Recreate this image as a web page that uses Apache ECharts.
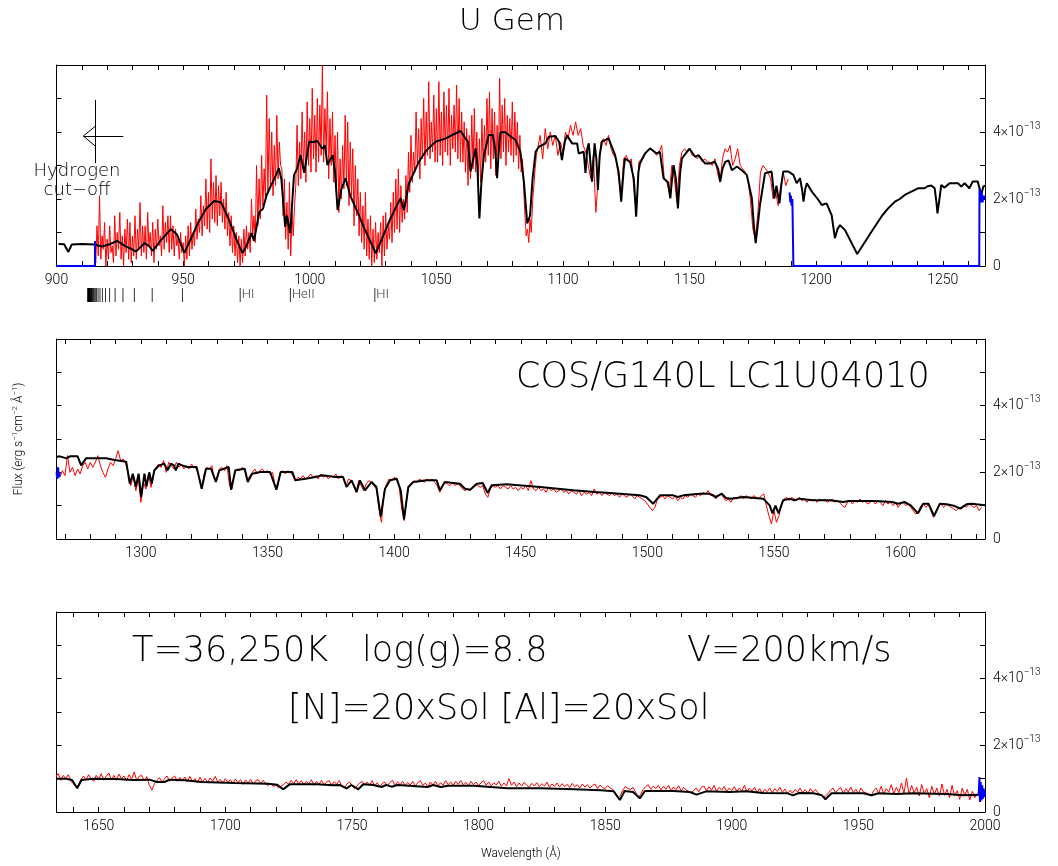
<!DOCTYPE html>
<html>
<head>
<meta charset="utf-8">
<title>U Gem</title>
<script src="https://cdn.jsdelivr.net/npm/echarts@6/dist/echarts.min.js"></script>
<style>
  html, body { margin: 0; padding: 0; background: #fff; }
  #chart { width: 1058px; height: 866px; }
</style>
</head>
<body>
<div id="chart"></div>
<script>
// flux everywhere in units of 1e-13 erg s-1 cm-2 A-1, wavelength in A
const FONT = 'Roboto';      // small text
const BIG_FONT = 'DejaVu Sans'; // big annotations, extra light
const THIN = 200;

const xRange1 = [900, 1266.67];
const xRange2 = [1266.67, 1633.33];
const xRange3 = [1633.33, 2000];
const yRange = [0, 6];

const xTicks1 = [910, 920, 930, 940, 950, 960, 970, 980, 990, 1000, 1010, 1020, 1030, 1040, 1050, 1060, 1070, 1080, 1090, 1100, 1110, 1120, 1130, 1140, 1150, 1160, 1170, 1180, 1190, 1200, 1210, 1220, 1230, 1240, 1250, 1260];
const xTicks2 = [1270, 1280, 1290, 1300, 1310, 1320, 1330, 1340, 1350, 1360, 1370, 1380, 1390, 1400, 1410, 1420, 1430, 1440, 1450, 1460, 1470, 1480, 1490, 1500, 1510, 1520, 1530, 1540, 1550, 1560, 1570, 1580, 1590, 1600, 1610, 1620, 1630];
const xTicks3 = [1640, 1650, 1660, 1670, 1680, 1690, 1700, 1710, 1720, 1730, 1740, 1750, 1760, 1770, 1780, 1790, 1800, 1810, 1820, 1830, 1840, 1850, 1860, 1870, 1880, 1890, 1900, 1910, 1920, 1930, 1940, 1950, 1960, 1970, 1980, 1990, 2000];
const xLabels1 = [900, 950, 1000, 1050, 1100, 1150, 1200, 1250];
const xLabels2 = [1300, 1350, 1400, 1450, 1500, 1550, 1600];
const xLabels3 = [1650, 1700, 1750, 1800, 1850, 1900, 1950, 2000];
const yLabels = [0, 2, 4];

// observed spectrum (red). FUSE part: 0.5 A steps 915-1089.5, then 1 A steps
const obs1aStart = 915;
const obs1a = [
  0.7, 0.1, 1.2, 0.3, 2.1, 0.2, 0.9, 0.5, 1.3, 0.0,
  0.8, 0.2, 1.2, 0.4, 0.6, 0.1, 1.5, 0.3, 1.0, 0.5,
  1.6, 0.2, 0.9, 0.0, 1.1, 0.4, 1.4, 0.2, 1.3, 0.1,
  0.9, 0.3, 1.5, 0.2, 1.1, 0.5, 1.9, 0.3, 1.2, 0.4,
  1.2, 0.2, 1.6, 0.6, 1.0, 0.3, 1.3, 0.1, 1.1, 0.5,
  1.4, 0.6, 0.9, 0.3, 1.8, 0.5, 1.3, 0.7, 1.5, 0.4,
  1.5, 0.5, 1.2, 0.3, 1.1, 0.6, 0.8, 0.2, 1.0, 0.4,
  0.7, 0.0, 0.9, 0.2, 1.2, 0.3, 1.3, 0.5, 1.0, 0.6,
  1.7, 0.8, 1.4, 1.0, 2.1, 0.9, 1.8, 1.2, 2.6, 1.1,
  2.2, 1.0, 3.2, 1.4, 2.5, 1.3, 2.7, 1.2, 2.4, 1.5,
  2.5, 1.3, 2.0, 1.1, 2.2, 0.9, 1.6, 0.6, 1.5, 0.4,
  1.2, 0.3, 1.0, 0.1, 0.9, 0.0, 0.8, 0.1, 1.1, 0.3,
  1.2, 0.5, 1.0, 0.4, 2.0, 0.9, 1.5, 0.7, 3.0, 1.2,
  2.6, 1.4, 3.3, 1.8, 2.9, 2.0, 5.1, 2.2, 4.4, 2.3,
  4.0, 2.1, 3.6, 2.4, 4.5, 2.6, 3.7, 3.0, 2.9, 1.5,
  2.6, 0.8, 1.9, 0.5, 2.5, 0.3, 1.6, 0.9, 1.8, 2.4,
  4.2, 2.4, 3.7, 2.6, 4.6, 2.9, 4.0, 2.5, 4.9, 3.0,
  4.4, 2.8, 5.3, 3.2, 4.5, 2.8, 5.0, 3.1, 4.8, 3.3,
  6.0, 3.1, 4.7, 3.4, 5.2, 2.6, 4.4, 3.0, 4.6, 2.5,
  3.9, 2.2, 4.0, 1.6, 3.2, 2.0, 3.6, 2.3, 4.5, 2.4,
  4.3, 1.8, 3.7, 2.1, 3.5, 1.2, 3.0, 1.5, 2.6, 0.9,
  2.2, 0.7, 1.8, 0.5, 2.2, 0.3, 1.4, 0.2, 1.5, 0.0,
  1.1, 0.1, 1.3, 0.2, 1.0, 0.4, 1.3, 0.0, 1.5, 0.3,
  1.6, 0.5, 1.2, 0.8, 1.9, 0.7, 2.2, 1.0, 2.6, 1.1,
  2.9, 1.0, 2.4, 1.3, 2.0, 1.4, 2.7, 1.6, 3.4, 2.2,
  3.9, 2.5, 3.4, 2.8, 4.6, 3.0, 4.1, 2.6, 4.4, 3.2,
  5.0, 3.0, 4.6, 3.3, 5.5, 3.2, 4.3, 3.4, 5.1, 3.1,
  4.7, 3.1, 5.5, 3.3, 4.6, 3.0, 5.2, 3.4, 4.8, 3.3,
  5.3, 3.0, 4.5, 3.5, 4.8, 3.4, 5.4, 3.2, 5.0, 3.1,
  4.6, 3.1, 4.3, 2.8, 4.1, 2.4, 3.9, 2.6, 4.5, 2.9,
  4.7, 2.8, 4.0, 2.4, 3.8, 2.5, 4.4, 3.0, 4.2, 3.1,
  5.0, 3.3, 5.2, 2.9, 4.7, 3.2, 4.6, 2.7, 4.2, 3.0,
  5.6, 3.2, 4.8, 3.4, 5.0, 3.0, 4.5, 3.4, 4.4, 3.3,
  4.9, 3.1, 4.6, 3.3, 4.3, 2.9, 3.9, 2.8, 3.2, 2.3,
  1.5, 0.9, 1.1, 0.7, 1.4, 1.0, 1.9, 2.4, 2.9, 3.3
];
const obs1bStart = 1090;
const obs1b = [
  3.3, 3.9, 3.2, 4.1, 3.5,
  4.0, 3.6, 3.9, 3.3, 3.7, 3.4, 4.0, 3.8, 4.2, 3.9,
  4.3, 3.9, 4.1, 3.6, 3.4, 3.0, 2.6, 3.3, 1.6, 2.7,
  3.7, 3.8, 3.6, 3.9, 3.5, 3.3, 3.2, 2.6, 2.1, 3.2,
  3.3, 3.1, 3.2, 2.3, 1.6, 3.1, 3.2, 3.3, 3.4, 3.5,
  3.5, 3.4, 3.3, 3.4, 3.6, 2.6, 2.5, 2.2, 3.0, 2.6,
  1.9, 3.0, 3.4, 3.5, 3.4, 3.5, 3.3, 3.3, 3.2, 3.3,
  3.1, 3.2, 3.1, 3.1, 3.0, 3.2, 2.8, 2.5, 3.2, 3.5,
  3.4, 3.6, 3.0, 3.2, 3.5, 3.0, 2.9, 2.8, 2.6, 2.0,
  1.1, 0.8, 1.6, 2.8, 3.0, 2.9, 2.8, 2.6, 2.0, 2.2,
  1.8, 2.4, 2.8, 2.4, 2.6
];

// COS part, 1 A steps
const obs2Start = 1268;
const obs2 = [
  1.85, 2.05, 1.9, 2.5, 2.0, 2.15, 1.9, 2.1, 1.95, 2.2,
  2.3, 2.1, 2.3, 2.15, 2.3, 2.5, 2.2, 2.0, 1.85, 2.1,
  2.3, 2.2, 2.4, 2.65, 2.35, 2.4, 2.25, 2.0, 1.6, 1.9,
  1.45, 1.8, 1.1, 1.7, 1.5, 1.95, 1.55, 2.0, 2.15, 2.25,
  2.15, 2.35, 2.0, 2.3, 2.2, 2.1, 2.3, 2.15, 2.25, 2.1,
  2.2, 2.1, 2.25, 2.15, 2.1, 1.85, 1.5, 1.95, 2.15, 2.1,
  2.2, 1.8, 1.85, 2.1, 2.15, 2.05, 2.2, 1.6, 1.5, 2.0,
  2.1, 2.05, 2.15, 2.05, 1.75, 1.9, 2.0, 2.1, 1.95, 2.05,
  2.1, 2.0, 2.05, 1.95, 2.0, 1.6, 1.55, 2.0, 2.05, 1.95,
  2.05, 2.0, 1.9, 1.75, 1.85, 1.8, 1.9, 1.8, 1.85, 1.95,
  1.85, 1.9, 1.8, 1.95, 1.85, 1.9, 1.8, 1.9, 1.85, 1.95,
  1.8, 1.9, 1.85, 1.6, 1.8, 1.75, 1.6, 1.4, 1.75, 1.6,
  1.45, 1.65, 1.75, 1.7, 1.6, 1.5, 0.9, 0.5, 1.4, 1.65,
  1.8, 1.75, 1.85, 1.8, 1.55, 0.9, 0.55, 1.3, 1.6, 1.7,
  1.75, 1.7, 1.8, 1.75, 1.7, 1.8, 1.75, 1.8, 1.7, 1.6,
  1.4, 1.55, 1.7, 1.65, 1.6, 1.7, 1.6, 1.65, 1.6, 1.5,
  1.45, 1.5, 1.45, 1.55, 1.65, 1.6, 1.55, 1.6, 1.35, 1.25,
  1.5, 1.6, 1.55, 1.6, 1.5, 1.6, 1.55, 1.5, 1.6, 1.5,
  1.55, 1.45, 1.55, 1.5, 1.6, 1.45, 1.75, 1.5, 1.45, 1.55,
  1.45, 1.5, 1.4, 1.55, 1.45, 1.5, 1.4, 1.45, 1.5, 1.4,
  1.45, 1.35, 1.45, 1.4, 1.35, 1.45, 1.3, 1.4, 1.35, 1.4,
  1.3, 1.5, 1.35, 1.4, 1.3, 1.4, 1.35, 1.3, 1.4, 1.3,
  1.35, 1.25, 1.35, 1.3, 1.25, 1.35, 1.3, 1.2, 1.3, 1.25,
  1.2, 1.15, 1.05, 0.95, 0.85, 0.95, 1.2, 1.25, 1.3, 1.2,
  1.3, 1.25, 1.2, 1.3, 1.15, 1.25, 1.2, 1.3, 1.25, 1.35,
  1.3, 1.25, 1.35, 1.3, 1.4, 1.35, 1.45, 1.3, 1.35, 1.2,
  1.3, 1.35, 1.25, 1.15, 1.2, 1.1, 1.25, 1.2, 1.25, 1.3,
  1.2, 1.3, 1.25, 1.2, 1.3, 1.25, 1.2, 1.3, 1.35, 1.0,
  0.7, 0.45, 0.85, 0.5, 0.7, 1.05, 1.2, 1.25, 1.15, 1.25,
  1.2, 1.15, 1.25, 1.15, 1.2, 1.1, 1.2, 1.15, 1.2, 1.1,
  1.2, 1.15, 1.2, 1.1, 1.15, 1.2, 1.1, 1.15, 1.1, 1.0,
  0.95, 1.1, 1.15, 1.05, 1.15, 1.1, 1.2, 1.1, 1.15, 1.05,
  1.1, 1.15, 1.05, 1.15, 1.1, 1.0, 1.15, 1.05, 1.1, 1.0,
  1.1, 0.95, 1.05, 1.1, 1.0, 1.05, 0.95, 0.85, 0.75, 0.8,
  1.0, 1.05, 0.95, 1.05, 0.85, 0.65, 0.8, 1.0, 1.05, 0.95,
  1.05, 1.0, 0.95, 0.9, 0.85, 0.95, 0.9, 1.0, 0.95, 1.05,
  1.0, 0.95, 1.0, 0.85, 0.95
];

const obs3Start = 1633;
const obs3 = [
  1.05, 1.15, 0.95, 1.1, 1.0, 1.12, 0.92, 0.85, 0.75, 0.82,
  0.98, 1.08, 0.96, 1.12, 1.0, 0.92, 1.1, 0.98, 1.15, 0.95,
  1.08, 1.17, 0.96, 1.1, 0.95, 1.14, 1.0, 1.08, 0.94, 1.12,
  0.98, 1.2, 0.95, 1.07, 1.1, 0.93, 1.06, 0.8, 0.66, 0.85,
  0.95, 1.03, 0.9, 1.0, 1.08, 0.92, 1.02, 1.08, 0.92, 1.04,
  0.94, 1.05, 0.9, 1.07, 0.92, 1.0, 0.88, 1.04, 0.9, 1.01,
  0.88, 1.02, 0.92, 1.07, 0.9, 0.98, 0.86, 1.0, 0.89, 0.97,
  0.86, 0.99, 0.88, 0.97, 0.83, 0.96, 0.88, 0.98, 0.84, 0.94,
  0.97, 0.85, 0.95, 0.83, 0.8, 0.86, 0.76, 0.82, 0.72, 0.78,
  0.82, 0.9, 0.83, 0.95, 0.85, 0.97, 0.84, 0.94, 0.82, 0.92,
  0.84, 0.97, 0.8, 0.92, 0.83, 0.95, 0.82, 0.9, 0.94, 0.81,
  0.91, 0.83, 0.94, 0.78, 0.72, 0.84, 0.9, 0.8, 0.7, 0.78,
  0.87, 0.92, 0.81, 0.9, 0.8, 0.94, 0.78, 0.88, 0.76, 0.86,
  0.9, 0.78, 0.88, 0.95, 0.8, 0.91, 0.82, 0.92, 0.79, 0.89,
  0.81, 0.92, 0.78, 0.88, 0.94, 0.8, 0.87, 0.76, 0.9, 0.81,
  0.92, 0.78, 0.88, 0.8, 0.94, 0.82, 0.9, 0.8, 0.92, 0.83,
  0.94, 0.81, 0.89, 0.78, 0.92, 0.82, 0.9, 0.79, 0.88, 0.94,
  0.8, 0.9, 0.78, 0.88, 0.81, 0.92, 0.77, 0.87, 0.78, 1.0,
  0.8, 0.9, 0.76, 0.87, 0.78, 0.89, 0.8, 0.74, 0.86, 0.78,
  0.88, 0.76, 0.85, 0.78, 0.9, 0.74, 0.84, 0.77, 0.87, 0.75,
  0.85, 0.76, 0.83, 0.73, 0.86, 0.76, 0.82, 0.72, 0.84, 0.75,
  0.82, 0.72, 0.8, 0.84, 0.7, 0.81, 0.73, 0.7, 0.79, 0.72,
  0.68, 0.55, 0.42, 0.5, 0.66, 0.77, 0.7, 0.68, 0.74, 0.6,
  0.45, 0.52, 0.68, 0.76, 0.82, 0.68, 0.78, 0.7, 0.8, 0.66,
  0.77, 0.68, 0.8, 0.64, 0.75, 0.67, 0.79, 0.63, 0.74, 0.66,
  0.62, 0.58, 0.65, 0.72, 0.61, 0.74, 0.78, 0.64, 0.76, 0.66,
  0.8, 0.63, 0.74, 0.66, 0.77, 0.61, 0.72, 0.65, 0.76, 0.62,
  0.72, 0.64, 0.8, 0.6, 0.72, 0.63, 0.74, 0.58, 0.7, 0.56,
  0.68, 0.61, 0.72, 0.58, 0.7, 0.62, 0.74, 0.59, 0.69, 0.54,
  0.65, 0.56, 0.68, 0.6, 0.72, 0.58, 0.67, 0.55, 0.7, 0.6,
  0.68, 0.58, 0.52, 0.45, 0.48, 0.55, 0.66, 0.72, 0.58, 0.68,
  0.74, 0.56, 0.7, 0.6, 0.75, 0.58, 0.68, 0.54, 0.72, 0.6,
  0.58, 0.52, 0.48, 0.64, 0.72, 0.56, 0.77, 0.53, 0.7, 0.6,
  0.82, 0.54, 0.74, 0.58, 0.87, 0.56, 1.02, 0.53, 0.8, 0.58,
  0.74, 0.48, 0.82, 0.56, 0.7, 0.43, 0.77, 0.53, 0.72, 0.48,
  0.84, 0.5, 0.68, 0.43, 0.8, 0.48, 0.64, 0.38, 0.72, 0.5,
  0.68, 0.36, 0.62, 0.43, 0.55
];

// model spectrum (black), [wavelength, flux]
const model1 = [
  [900.8, 0.66], [903, 0.65], [904.7, 0.42], [906, 0.64], [910, 0.66], [915, 0.64], [918, 0.58], [921, 0.65],
  [924, 0.75], [927, 0.6], [929, 0.53], [931.4, 0.43], [934.7, 0.68], [936.5, 0.6], [938, 0.45], [941, 0.75],
  [945.2, 1.1], [947.5, 0.95], [950.5, 0.39], [953, 0.8], [956, 1.3], [959, 1.7], [962.3, 1.94], [965, 1.9],
  [968, 1.4], [971, 0.8], [973.4, 0.39], [975, 0.6], [977, 0.98], [978, 0.75], [980.1, 1.62], [981.5, 1.7],
  [983, 2.12], [984.5, 2.37], [986, 2.6], [987.8, 2.92], [988.8, 2.6], [990.3, 1.17], [991, 1.5], [992.3, 0.98],
  [993.8, 2.72], [995, 2.9], [996.4, 3.31], [997.8, 2.78], [999.8, 3.71], [1001.5, 3.7], [1003, 3.73], [1005, 3.5],
  [1006, 3.6], [1007, 3.01], [1009, 3.31], [1010, 2.8], [1011, 1.67], [1012.5, 2.3], [1014.2, 2.62], [1016, 2.1],
  [1018.8, 1.62], [1021.5, 1.13], [1026.1, 0.38], [1031.3, 1.32], [1034, 1.75], [1035.9, 2.02], [1037.2, 1.67], [1039.2, 2.47],
  [1043.1, 3.11], [1046, 3.45], [1049.7, 3.71], [1053.7, 3.81], [1056.3, 3.91], [1059.6, 4.03], [1061.5, 3.81], [1062.5, 3.7],
  [1063.5, 2.82], [1065.5, 3.51], [1066.2, 3.0], [1067, 1.42], [1067.8, 2.5], [1068.8, 3.31], [1070.7, 3.91], [1072.3, 3.91],
  [1073.2, 3.5], [1074, 2.62], [1074.8, 3.6], [1075.3, 3.99], [1077.3, 3.99], [1078.6, 3.91], [1081.3, 3.76], [1083.2, 3.41],
  [1084.6, 2.5], [1085.9, 1.27], [1087, 1.5], [1088, 2.6], [1089.2, 3.41], [1090.5, 3.56], [1093.1, 3.66], [1094.4, 3.86],
  [1097, 3.88], [1098.5, 3.7], [1099.6, 3.16], [1100.7, 3.7], [1101.6, 3.9], [1103.6, 3.66], [1105.6, 3.66], [1106.2, 3.36],
  [1108.2, 3.41], [1108.9, 2.78], [1109.6, 3.5], [1110.2, 3.66], [1111.5, 2.52], [1112.5, 3.66], [1113.2, 3.2], [1113.8, 2.27],
  [1114.5, 3.3], [1115.4, 3.71], [1118, 3.81], [1120.6, 3.31], [1122, 2.8], [1123, 1.92], [1124, 2.9], [1124.5, 3.21],
  [1126.5, 3.11], [1128, 2.6], [1128.9, 1.47], [1129.8, 2.8], [1130.4, 3.06], [1132.4, 3.36], [1134.4, 3.51], [1137, 3.36],
  [1138.3, 3.41], [1139.7, 2.62], [1141.5, 2.5], [1142.4, 2.02], [1143.2, 2.7], [1143.7, 3.01], [1144.6, 2.6], [1145.4, 1.72],
  [1146.3, 2.8], [1147, 3.21], [1149, 3.41], [1150, 3.5], [1152.2, 3.26], [1153.5, 3.31], [1156.1, 3.06], [1158, 3.06],
  [1160, 3.11], [1161.3, 2.9], [1162.1, 2.52], [1163, 2.9], [1164.1, 3.11], [1165.4, 3.15], [1166.7, 2.86], [1168.7, 2.97],
  [1170.6, 2.86], [1172.6, 2.72], [1174.6, 2.02], [1175.4, 1.2], [1176.1, 0.68], [1176.9, 1.2], [1177.8, 1.82], [1179.8, 2.77],
  [1182.4, 2.82], [1183.5, 2.02], [1184.3, 2.4], [1185, 2.07], [1185.5, 1.87], [1186.2, 2.4], [1187, 2.82], [1189, 2.82],
  [1191, 2.72], [1192.3, 2.47], [1193.6, 2.62], [1194.4, 2.3], [1195, 1.92], [1195.7, 2.3], [1196.3, 2.47], [1198.3, 2.22],
  [1200.9, 1.97], [1202.2, 1.82], [1204.1, 1.87], [1206.1, 1.52], [1207.4, 0.83], [1208.4, 1.1], [1209.4, 1.22], [1211.4, 1.07],
  [1216.2, 0.36], [1221.9, 1.03], [1226, 1.5], [1228.4, 1.72], [1231.1, 1.92], [1233, 2.0], [1235, 2.12], [1237.6, 2.22],
  [1240.2, 2.32], [1242.8, 2.32], [1244, 2.38], [1245.5, 2.4], [1246.8, 2.32], [1247.5, 1.9], [1247.9, 1.57], [1248.5, 1.9],
  [1249.4, 2.42], [1250.7, 2.34], [1252.7, 2.47], [1256, 2.47], [1257.3, 2.37], [1258.6, 2.47], [1260.5, 2.32], [1261.8, 2.52],
  [1263.8, 2.52], [1265.2, 2.12], [1266, 2.37], [1266.67, 2.4]
];

const model2 = [
  [1266.67, 2.46], [1268, 2.48], [1270.6, 2.42], [1272, 2.48], [1275, 2.48], [1276.4, 2.21], [1278.3, 2.42], [1283.6, 2.42],
  [1286.3, 2.42], [1289.6, 2.37], [1294.2, 2.32], [1295.6, 1.66], [1296.8, 1.96], [1298, 1.57], [1299.1, 1.96], [1300.1, 1.26],
  [1301.4, 1.96], [1302.2, 1.57], [1303.3, 2.0], [1304.3, 1.66], [1305.3, 2.06], [1307.3, 2.21], [1309.2, 2.26], [1310.5, 2.06],
  [1311.9, 2.26], [1313, 2.21], [1313.8, 2.06], [1314.8, 2.26], [1316.3, 2.21], [1318.3, 2.16], [1322, 2.16], [1324, 1.51],
  [1325.7, 2.11], [1327.7, 2.11], [1329.6, 1.71], [1331, 2.06], [1334.7, 2.16], [1335.6, 1.48], [1337.3, 2.06], [1341, 2.11],
  [1342.2, 1.71], [1343.9, 1.96], [1347.2, 2.01], [1351, 2.01], [1353.5, 1.48], [1355.2, 2.01], [1359.8, 2.01], [1361, 1.76],
  [1365, 1.81], [1369, 1.86], [1371.6, 1.91], [1376.8, 1.86], [1379.8, 1.86], [1381.2, 1.56], [1383.2, 1.76], [1385.2, 1.41],
  [1386.5, 1.76], [1388.5, 1.46], [1391.1, 1.71], [1393, 1.56], [1394.7, 0.67], [1396.4, 1.51], [1398.4, 1.76], [1401, 1.81],
  [1402.6, 1.46], [1403.9, 0.59], [1405.6, 1.56], [1407.6, 1.71], [1412.8, 1.76], [1416.8, 1.76], [1418.1, 1.46], [1420, 1.71],
  [1426, 1.66], [1428, 1.51], [1430, 1.48], [1432.7, 1.66], [1435, 1.68], [1436.9, 1.38], [1438.5, 1.61], [1444.4, 1.64],
  [1457.6, 1.56], [1470.7, 1.46], [1478, 1.42], [1478.6, 1.36], [1479.3, 1.41], [1483.9, 1.39], [1497, 1.31], [1499.5, 1.26],
  [1502.3, 1.06], [1505, 1.31], [1510.2, 1.31], [1512, 1.26], [1514.2, 1.31], [1520.8, 1.36], [1524.5, 1.36], [1527, 1.26],
  [1529.4, 1.36], [1531, 1.23], [1533, 1.21], [1538, 1.26], [1545.7, 1.21], [1548.3, 1.01], [1549.4, 0.77], [1550.6, 1.0],
  [1551.8, 0.77], [1553.6, 1.16], [1556.2, 1.21], [1558, 1.16], [1560, 1.21], [1565.3, 1.16], [1572, 1.16], [1577.5, 1.11],
  [1578.2, 1.06], [1579.5, 1.14], [1590, 1.14], [1596.7, 1.11], [1599, 1.06], [1601.5, 1.11], [1604, 1.01], [1606.9, 0.77],
  [1608.9, 1.06], [1611, 1.06], [1613.2, 0.69], [1615.5, 1.06], [1618.2, 1.04], [1621, 1.0], [1623.5, 0.91], [1626, 1.04],
  [1628, 1.06], [1630, 1.04], [1633.33, 1.01]
];

const model3 = [
  [1633.33, 1.0], [1637, 1.0], [1639.5, 0.96], [1641.5, 0.71], [1643.2, 0.96], [1647.9, 1.0], [1657, 0.99], [1663.6, 0.96],
  [1670, 0.97], [1673, 0.9], [1676, 0.9], [1678, 0.97], [1684, 0.95], [1690.6, 0.9], [1703.7, 0.87], [1716.9, 0.85],
  [1720.5, 0.82], [1722.8, 0.68], [1725.4, 0.83], [1736, 0.83], [1742.6, 0.8], [1745.2, 0.81], [1747.9, 0.71], [1749.8, 0.81],
  [1752.5, 0.68], [1754.5, 0.83], [1758.4, 0.81], [1761.7, 0.75], [1763.5, 0.81], [1765.7, 0.76], [1768, 0.81], [1779.9, 0.75],
  [1782, 0.81], [1785.1, 0.75], [1788, 0.79], [1798.2, 0.79], [1811.4, 0.71], [1824.5, 0.71], [1837.7, 0.68], [1848.2, 0.65],
  [1853.4, 0.62], [1855.8, 0.36], [1857.7, 0.63], [1861, 0.6], [1863.7, 0.41], [1865.7, 0.63], [1876.9, 0.63], [1883.5, 0.6],
  [1886, 0.52], [1889.9, 0.62], [1899.1, 0.6], [1905.7, 0.62], [1912.3, 0.57], [1922, 0.56], [1924.2, 0.5], [1926.5, 0.57],
  [1932.3, 0.56], [1935.6, 0.5], [1937, 0.38], [1939.4, 0.56], [1951.9, 0.56], [1955.2, 0.5], [1958, 0.56], [1965, 0.54],
  [1971.6, 0.56], [1984.8, 0.54], [1991.4, 0.5], [1998, 0.52], [2000, 0.52]
];

// flagged / zero-weight pixels (blue)
const flagged1a = [[900, 0], [915.2, 0], [915.2, 0.75]];
const flagged1b = [[1189.5, 2.2], [1189.8, 1.9], [1190, 2.1], [1190.3, 1.8], [1190.6, 2.0], [1191, 0], [1264.4, 0], [1264.5, 2.3],
  [1264.9, 1.9], [1265.3, 2.2], [1265.7, 1.9], [1266.1, 2.1], [1266.67, 2.0]];
const flagged2 = [[1266.67, 2.0], [1267, 1.8], [1267.3, 2.15], [1267.6, 1.85], [1268, 2.0]];
const flagged3 = [[1997.5, 0.5], [1997.8, 1.05], [1998, 0.3], [1998.3, 0.9], [1998.6, 0.35], [1998.9, 0.8], [1999.2, 0.4],
  [1999.5, 0.7], [1999.8, 0.45], [2000, 0.6]];

// line identifications under the top panel
const lymanSeries = [949.74, 937.80, 930.75, 926.23, 923.15, 920.96, 919.35, 918.13, 917.18, 916.43, 915.82, 915.33,
  914.92, 914.58, 914.29, 914.04, 913.83, 913.64, 913.48, 913.34, 913.21, 913.10, 913.00, 912.92, 912.84, 912.77,
  912.70, 912.64, 912.59, 912.54, 912.50, 912.46, 912.42];
const idWaves = [972.54, 992.36, 1025.72];
const idNames = ['HI', 'HeII', 'HI'];

// hydrogen cut-off arrow, in data units of the top panel
const cutoffArrow = [
  [[915.2, 4.96], [915.2, 3.07]],
  [[926.4, 3.88], [910.6, 3.88]],
  [[915.6, 4.19], [910.6, 3.88]],
  [[910.6, 3.88], [915.6, 3.56]]
];

function toPairs(start, step, vals) {
  return vals.map((v, i) => [start + i * step, v]);
}

const chart = echarts.init(document.getElementById('chart'));

const grids = [
  { left: 56.5, top: 65, width: 928.5, height: 201 },
  { left: 56.5, top: 339, width: 928.5, height: 200 },
  { left: 56.5, top: 612, width: 928.5, height: 200 },
  { left: 56.5, top: 288, width: 928.5, height: 14 }
];

const lineCol = '#000';
function xAxisPair(gi, range, ticks, labels, extra) {
  const base = {
    type: 'value', gridIndex: gi, min: range[0], max: range[1],
    axisLine: { show: true, onZero: false, lineStyle: { color: lineCol, width: 1 } },
    axisTick: { show: true, inside: true, length: 5, customValues: ticks, lineStyle: { color: lineCol } },
    splitLine: { show: false }
  };
  return [
    Object.assign({}, base, {
      position: 'bottom',
      axisLabel: {
        show: true, customValues: labels, margin: 7, color: '#000',
        fontFamily: FONT, fontSize: 14, fontWeight: 300, formatter: v => String(v)
      }
    }, extra || {}),
    Object.assign({}, base, { position: 'top', axisLabel: { show: false } })
  ];
}
function yAxisPair(gi, extra) {
  const base = {
    type: 'value', gridIndex: gi, min: yRange[0], max: yRange[1], interval: 1,
    axisLine: { show: true, onZero: false, lineStyle: { color: lineCol, width: 1 } },
    axisTick: { show: true, inside: true, length: 5, lineStyle: { color: lineCol } },
    splitLine: { show: false }
  };
  return [
    Object.assign({}, base, { position: 'left', axisLabel: { show: false } }, extra || {}),
    Object.assign({}, base, {
      position: 'right',
      axisLabel: {
        show: true, customValues: yLabels, margin: 8, color: '#000', fontFamily: FONT, fontSize: 14, fontWeight: 300,
        formatter: v => v === 0 ? '0' : v + '×10{s|−13}',
        rich: { s: { fontSize: 10, fontFamily: FONT, fontWeight: 300, color: '#000', verticalAlign: 'top', lineHeight: 10 } },
        lineHeight: 22
      }
    })
  ];
}

const xAxes = [].concat(
  xAxisPair(0, xRange1, xTicks1, xLabels1),
  xAxisPair(1, xRange2, xTicks2, xLabels2),
  xAxisPair(2, xRange3, xTicks3, xLabels3, {
    name: 'Wavelength (Å)', nameLocation: 'middle', nameGap: 36,
    nameTextStyle: { fontFamily: FONT, fontSize: 12, color: '#000', fontWeight: 300 }
  }),
  [{ type: 'value', gridIndex: 3, min: xRange1[0], max: xRange1[1], show: false }]
);
const yAxes = [].concat(
  yAxisPair(0),
  yAxisPair(1, {
    name: 'Flux (erg s{s|−1}cm{s|−2} Å{s|−1})', nameLocation: 'middle', nameGap: 30, nameRotate: 90,
    nameTextStyle: {
      fontFamily: FONT, fontSize: 12, color: '#000', fontWeight: 300, lineHeight: 16,
      rich: { s: { fontSize: 8, fontFamily: FONT, fontWeight: 300, color: '#000', verticalAlign: 'top', lineHeight: 8 } }
    }
  }),
  yAxisPair(2),
  [{ type: 'value', gridIndex: 3, min: 0, max: 1, show: false }]
);

function line(name, xi, yi, data, color, width, extra) {
  return Object.assign({
    name: name, type: 'line', xAxisIndex: xi, yAxisIndex: yi, data: data,
    showSymbol: false, symbol: 'none', silent: true, animation: false,
    lineStyle: { color: color, width: width }, z: 2
  }, extra || {});
}

const series = [
  line('obs1', 0, 0, toPairs(obs1aStart, 0.5, obs1a).concat(toPairs(obs1bStart, 1, obs1b)), '#ff0000', 1),
  line('model1', 0, 0, model1, '#000000', 2, {
    z: 3,
    markLine: {
      silent: true, symbol: 'none', animation: false,
      label: { show: false },
      lineStyle: { color: '#000', width: 1, type: 'solid' },
      data: cutoffArrow.map(seg => [{ coord: seg[0] }, { coord: seg[1] }])
    }
  }),
  line('flag1a', 0, 0, flagged1a, '#0000ff', 2, { z: 4 }),
  line('flag1b', 0, 0, flagged1b, '#0000ff', 2, { z: 4 }),

  line('obs2', 2, 2, toPairs(obs2Start, 1, obs2), '#ff0000', 1),
  line('model2', 2, 2, model2, '#000000', 2, { z: 3 }),
  line('flag2', 2, 2, flagged2, '#0000ff', 2, { z: 4 }),

  line('obs3', 4, 4, toPairs(obs3Start, 1, obs3), '#ff0000', 1),
  line('model3', 4, 4, model3, '#000000', 2, { z: 3 }),
  line('flag3', 4, 4, flagged3, '#0000ff', 2, { z: 4 }),

  {
    type: 'scatter', xAxisIndex: 6, yAxisIndex: 6, silent: true, animation: false,
    symbol: 'rect', symbolSize: [1, 14], itemStyle: { color: '#000' },
    data: lymanSeries.map(w => [w, 0.5])
  },
  {
    type: 'scatter', xAxisIndex: 6, yAxisIndex: 6, silent: true, animation: false,
    symbol: 'rect', symbolSize: [1, 14], itemStyle: { color: '#000' },
    data: idWaves.map((w, i) => ({ value: [w, 0.5], name: idNames[i] })),
    label: {
      show: true, position: 'right', distance: 1, formatter: p => p.name,
      color: '#000', fontFamily: FONT, fontSize: 13, fontWeight: 300
    }
  }
];

const textStyle = (txt, size) => ({ text: txt, fill: '#000', font: THIN + ' ' + size + "px '" + BIG_FONT + "'" });

const option = {
  animation: false,
  backgroundColor: '#fff',
  grid: grids,
  xAxis: xAxes,
  yAxis: yAxes,
  series: series,
  graphic: [
    { type: 'text', x: 512, y: 22, style: Object.assign(textStyle('U Gem', 31), { textAlign: 'center', textVerticalAlign: 'middle' }) },
    { type: 'text', x: 77, y: 171, style: Object.assign(textStyle('Hydrogen', 18), { textAlign: 'center', textVerticalAlign: 'middle' }) },
    { type: 'text', x: 77, y: 190, style: Object.assign(textStyle('cut−off', 18), { textAlign: 'center', textVerticalAlign: 'middle' }) },
    { type: 'text', x: 516, y: 378, style: Object.assign(textStyle('COS/G140L LC1U04010', 35), { textAlign: 'left', textVerticalAlign: 'middle' }) },
    { type: 'text', x: 132, y: 652, style: Object.assign(textStyle('T=36,250K', 35), { textAlign: 'left', textVerticalAlign: 'middle' }) },
    { type: 'text', x: 362, y: 652, style: Object.assign(textStyle('log(g)=8.8', 35), { textAlign: 'left', textVerticalAlign: 'middle' }) },
    { type: 'text', x: 687, y: 652, style: Object.assign(textStyle('V=200km/s', 35), { textAlign: 'left', textVerticalAlign: 'middle' }) },
    { type: 'text', x: 288, y: 710, style: Object.assign(textStyle('[N]=20xSol [Al]=20xSol', 35), { textAlign: 'left', textVerticalAlign: 'middle' }) }
  ]
};

chart.setOption(option);
window.addEventListener('resize', chart.resize);
</script>
</body>
</html>
